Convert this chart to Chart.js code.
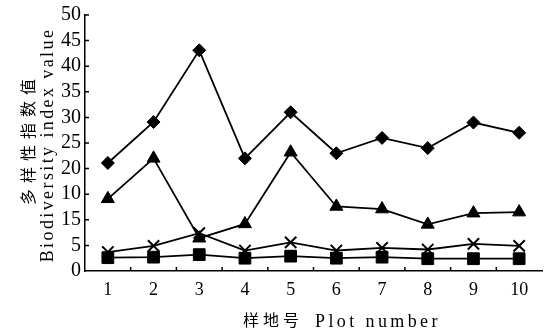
<!DOCTYPE html>
<html>
<head>
<meta charset="utf-8">
<script src="https://cdn.jsdelivr.net/npm/chart.js@4/dist/chart.umd.min.js"></script>
<style>
	html, body { margin: 0; padding: 0; background: #fff; overflow: hidden; }
	#wrap { width: 552px; height: 335px; }
</style>
</head>
<body>
<div id="wrap"><canvas id="chart-diversity"></canvas></div>
<script>
// Chart data
const PLOTS = ["1", "2", "3", "4", "5", "6", "7", "8", "9", "10"];
const DIAMOND_DATA = [21.1, 29.1, 43.1, 22, 31, 23, 26, 24, 29, 27];
const TRIANGLE_DATA = [14.1, 22, 6.4, 9.2, 23.2, 12.6, 12.1, 9.1, 11.3, 11.5];
const CROSS_DATA = [3.7, 4.9, 7.4, 4, 5.6, 4, 4.5, 4.2, 5.3, 4.9];
const SQUARE_DATA = [2.6, 2.7, 3.2, 2.5, 2.9, 2.5, 2.7, 2.4, 2.4, 2.4];
// tick labels as printed (10 and 15 are swapped in the original figure)
const Y_TICK_LABELS = ["0", "5", "15", "10", "20", "25", "30", "35", "40", "45", "50"];

const X_TITLE_ZH = "样地号";
const X_TITLE_EN = "Plot number";
const Y_TITLE_ZH = "多样性指数值";
const Y_TITLE_EN = "Biodiversity index value";

const FONT = "'Liberation Serif', 'Noto Sans CJK SC', serif";
const FONT_ZH = "'Noto Sans CJK SC', sans-serif";

const series = (data, style, radius, extra) => ({
	data: data,
	borderColor: "#000",
	backgroundColor: "#000",
	borderWidth: 1.8,
	tension: 0,
	pointStyle: style,
	pointRadius: radius,
	pointBorderColor: "#000",
	pointBackgroundColor: "#000",
	pointBorderWidth: 1,
	...extra,
});

// inward tick marks + axis titles
const axisDecor = {
	id: "axisDecor",
	afterDraw(chart) {
		const { ctx, scales: { x, y }, chartArea } = chart;
		ctx.save();
		ctx.strokeStyle = "#000";
		ctx.lineWidth = 1.5;
		ctx.beginPath();
		y.ticks.forEach((t, i) => {
			if (i === 0) return;
			const py = y.getPixelForTick(i);
			ctx.moveTo(chartArea.left, py);
			ctx.lineTo(chartArea.left + 4, py);
		});
		for (let i = 0; i < PLOTS.length - 1; i++) {
			const px = (x.getPixelForTick(i) + x.getPixelForTick(i + 1)) / 2;
			ctx.moveTo(px, chartArea.bottom);
			ctx.lineTo(px, chartArea.bottom - 4);
		}
		ctx.stroke();

		ctx.fillStyle = "#000";
		ctx.textBaseline = "alphabetic";

		// x title: chinese + english, spaced out like the print
		ctx.textAlign = "left";
		ctx.font = "16px " + FONT_ZH;
		ctx.letterSpacing = "4px";
		ctx.fillText(X_TITLE_ZH, 243, 326);
		ctx.font = "18px " + FONT;
		ctx.letterSpacing = "3.4px";
		ctx.fillText(X_TITLE_EN, 315, 327);

		// y title, rotated, two lines
		ctx.translate(0, 145);
		ctx.rotate(-Math.PI / 2);
		ctx.textAlign = "center";
		ctx.font = "16px " + FONT_ZH;
		ctx.letterSpacing = "6px";
		ctx.fillText(Y_TITLE_ZH, 6, 34);
		ctx.font = "18px " + FONT;
		ctx.letterSpacing = "2.4px";
		ctx.fillText(Y_TITLE_EN, 0, 53);
		ctx.restore();
	},
};

const CHART_CONFIG = {
	type: "line",
	data: {
		labels: PLOTS,
		datasets: [
			series(DIAMOND_DATA, "rectRot", 6.5),
			series(TRIANGLE_DATA, "triangle", 7.5),
			series(CROSS_DATA, "crossRot", 8, { pointBorderWidth: 2 }),
			series(SQUARE_DATA, "rect", 8.3),
		],
	},
	plugins: [axisDecor],
	options: {
		responsive: true,
		maintainAspectRatio: false,
		animation: false,
		layout: {
			padding: { top: 15, left: 0, right: 0, bottom: 0 },
		},
		scales: {
			x: {
				type: "category",
				offset: true,
				afterFit: (s) => { s.height = 64; },
				border: { display: true, color: "#000", width: 1.5 },
				grid: { display: false, drawTicks: false },
				ticks: {
					color: "#000",
					padding: 8,
					maxRotation: 0,
					autoSkip: false,
					font: { family: FONT, size: 18 },
				},
			},
			y: {
				min: 0,
				max: 50,
				afterFit: (s) => { s.width = 85; },
				border: { display: true, color: "#000", width: 1.5 },
				grid: { display: false, drawTicks: false },
				ticks: {
					stepSize: 5,
					autoSkip: false,
					color: "#000",
					padding: 4,
					font: { family: FONT, size: 20, lineHeight: 1 },
					callback: (value) => Y_TICK_LABELS[Math.round(value / 5)],
				},
			},
		},
		plugins: {
			legend: { display: false },
			tooltip: { enabled: false },
		},
	},
};

new Chart(document.getElementById("chart-diversity"), CHART_CONFIG);
</script>
</body>
</html>
